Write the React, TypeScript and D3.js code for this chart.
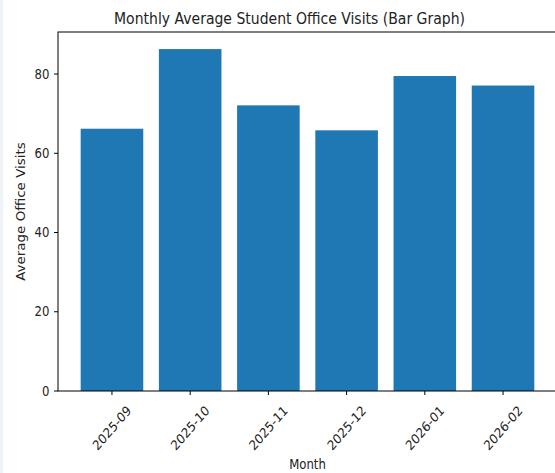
import React from "react";
import * as d3 from "d3";

const months = ["2025-09", "2025-10", "2025-11", "2025-12", "2026-01", "2026-02"];
const visits = [66.2, 86.3, 72.1, 65.8, 79.5, 77.1];
const yTicks = [0, 20, 40, 60, 80];

const width = 555;
const height = 473;
const margin = { top: 32, right: -2, bottom: 82, left: 58 };
const font = "DejaVu Sans, sans-serif";
// the picture is slightly stretched vertically, so text is too
const sy = 1.15;
const tickSize = 11.7;

const innerW = width - margin.left - margin.right;
const innerH = height - margin.top - margin.bottom;

// matplotlib style: bars at integer positions, width 0.8, 5% margins
const n = months.length;
const span = n - 1 + 0.8;
const pad = span * 0.05;
const x = d3
  .scaleLinear()
  .domain([-0.4 - pad, n - 1 + 0.4 + pad])
  .range([margin.left, margin.left + innerW]);

const yMax = d3.max(visits)! * 1.05;
const y = d3
  .scaleLinear()
  .domain([0, yMax])
  .range([margin.top + innerH, margin.top]);

const App = () => {
  const bottom = y(0);
  const left = x.range()[0];
  return (
    <svg
      width={width}
      height={height}
      style={{ position: "absolute", left: 0, top: 0, background: "#fff" }}
      fontFamily={font}
    >
      <rect x={0} y={0} width={3} height={height} fill="#eef3f8" />
      <text
        transform={`translate(289.5,24) scale(1,${sy})`}
        textAnchor="middle"
        fontSize={14}
        fill="#222"
      >
        Monthly Average Student Office Visits (Bar Graph)
      </text>

      {visits.map((v, i) => (
        <rect
          key={months[i]}
          x={x(i - 0.4)}
          y={y(v)}
          width={x(0.8) - x(0)}
          height={bottom - y(v)}
          fill="#1f77b4"
        />
      ))}

      {/* spines */}
      <rect x={left} y={margin.top} width={innerW} height={innerH} fill="none" stroke="#000" strokeWidth={1} />

      {yTicks.map((t) => (
        <g key={t}>
          <line x1={left - 4} x2={left} y1={y(t)} y2={y(t)} stroke="#000" />
          <text
            transform={`translate(${left - 8.5},${y(t)}) scale(1,${sy})`}
            dy="0.35em"
            textAnchor="end"
            fontSize={tickSize}
            fill="#222"
          >
            {t}
          </text>
        </g>
      ))}

      {months.map((m, i) => (
        <g key={m}>
          <line x1={x(i)} x2={x(i)} y1={bottom} y2={bottom + 4} stroke="#000" />
          <text
            transform={`translate(${x(i)},${bottom + 37}) scale(1,${sy}) rotate(-45)`}
            dy="0.35em"
            textAnchor="middle"
            fontSize={tickSize}
            fill="#222"
          >
            {m}
          </text>
        </g>
      ))}

      <text
        transform={`translate(${(x.range()[0] + x.range()[1]) / 2},469) scale(1,${sy})`}
        textAnchor="middle"
        fontSize={tickSize}
        fill="#222"
      >
        Month
      </text>
      <text
        transform={`translate(21,${211.5}) scale(1,${sy}) rotate(-90)`}
        dy="0.35em"
        textAnchor="middle"
        fontSize={tickSize}
        fill="#222"
      >
        Average Office Visits
      </text>
    </svg>
  );
};

export default App;
